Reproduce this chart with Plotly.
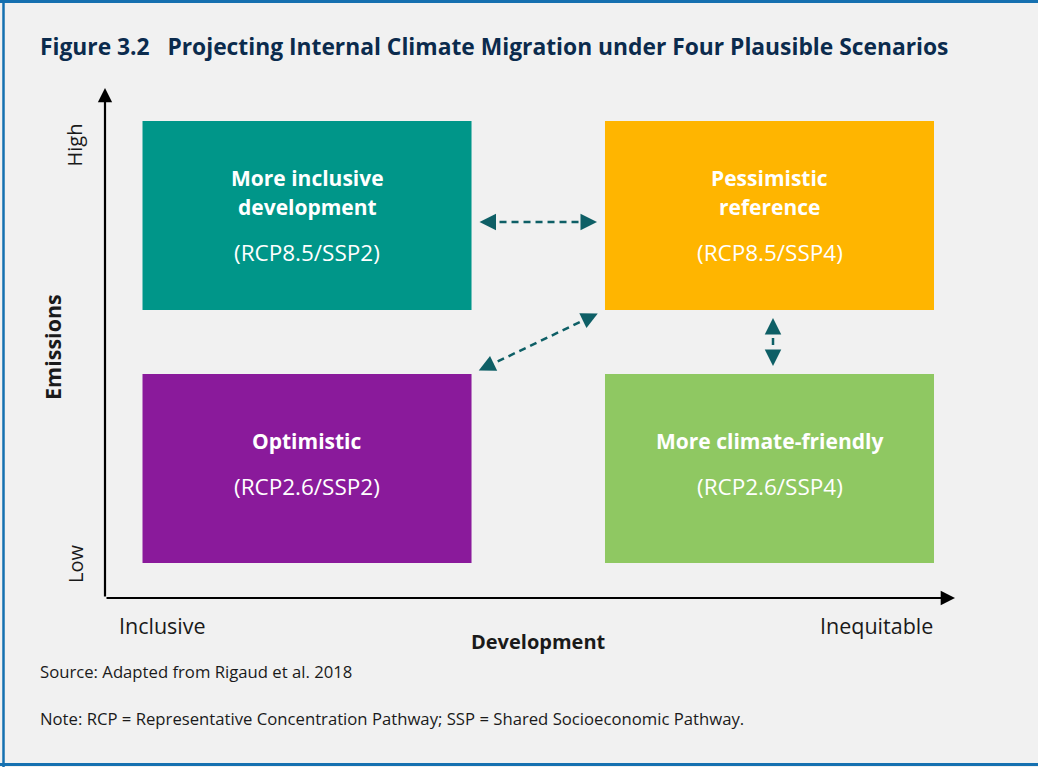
import plotly.graph_objects as go

# --- data ---------------------------------------------------------------
scenarios = ["More inclusive<br>development", "Pessimistic<br>reference",
             "Optimistic", "More climate-friendly"]
pathways = ["(RCP8.5/SSP2)", "(RCP8.5/SSP4)", "(RCP2.6/SSP2)", "(RCP2.6/SSP4)"]
development = ["Inclusive", "Inequitable", "Inclusive", "Inequitable"]
emissions = ["High", "High", "Low", "Low"]
dev_levels = ["Inclusive", "Inequitable"]
emi_levels = ["Low", "High"]
links = [(0, 1), (1, 2), (1, 3)]  # dashed two-way arrows between scenarios

box_colors = ["#009689", "#FFB500", "#8A1A9B", "#8FC862"]
arrow_color = "#0E5F66"
title_color = "#0B2B4D"
frame_color = "#1570B0"
bg = "#F1F1F1"
FONT = "Open Sans"

W, H = 1038, 767
ML, MR, MT, MB = 105, 83, 88, 169
XR = [-0.4368, 1.4011]
YR = [-0.5119, 1.504]
HW, HH = 0.3557, 0.3735  # half box size in axis units

px_x = (W - ML - MR) / (XR[1] - XR[0])
px_y = (H - MT - MB) / (YR[1] - YR[0])

fig = go.Figure()

xs = [dev_levels.index(d) for d in development]
ys = [emi_levels.index(e) for e in emissions]

# boxes + labels
for i, name in enumerate(scenarios):
    cx, cy = xs[i], ys[i]
    fig.add_shape(type="rect", x0=cx - HW, x1=cx + HW, y0=cy - HH, y1=cy + HH,
                  fillcolor=box_colors[i], line=dict(width=0), layer="below")
    lines = name.split("<br>")
    n = len(lines)
    code_off = 18 + 19 * (n - 1)
    for k, ln in enumerate(lines):
        off = code_off - 46 - 29 * (n - 1 - k)
        fig.add_annotation(x=cx, y=cy, yshift=-off, text=f"<b>{ln}</b>",
                           showarrow=False,
                           font=dict(size=21, color="white", family=FONT))
    fig.add_annotation(x=cx, y=cy, yshift=-code_off, text=pathways[i],
                       showarrow=False,
                       font=dict(size=22.5, color="white", family=FONT))

# dashed connectors
gap = 8
for a, b in links:
    ax_, ay_ = xs[a], ys[a]
    bx_, by_ = xs[b], ys[b]
    if ay_ == by_:
        sx = ax_ + HW * (1 if bx_ > ax_ else -1)
        ex = bx_ - HW * (1 if bx_ > ax_ else -1)
        sy = ey = ay_ - 6.5 / px_y
    elif ax_ == bx_:
        sx = ex = ax_ + 3.5 / px_x
        sy = ay_ + HH * (1 if by_ > ay_ else -1)
        ey = by_ - HH * (1 if by_ > ay_ else -1)
    else:
        sx = ax_ + HW * (1 if bx_ > ax_ else -1)
        sy = ay_ + HH * (1 if by_ > ay_ else -1)
        ex = bx_ - HW * (1 if bx_ > ax_ else -1)
        ey = by_ - HH * (1 if by_ > ay_ else -1)
    dx, dy = (ex - sx) * px_x, -(ey - sy) * px_y
    L = (dx ** 2 + dy ** 2) ** 0.5
    ux, uy = dx / L, dy / L
    sx2, sy2 = sx + ux * gap / px_x, sy - uy * gap / px_y
    ex2, ey2 = ex - ux * gap / px_x, ey + uy * gap / px_y
    fig.add_trace(go.Scatter(
        x=[sx2 + ux * 8 / px_x, ex2 - ux * 8 / px_x],
        y=[sy2 - uy * 8 / px_y, ey2 + uy * 8 / px_y],
        mode="lines", line=dict(color=arrow_color, width=2.5, dash="7px,5px"),
        hoverinfo="skip", showlegend=False))
    for (tx, ty, sgn) in [(ex2, ey2, 1), (sx2, sy2, -1)]:
        fig.add_annotation(x=tx, y=ty, ax=-sgn * ux * 10, ay=-sgn * uy * 10,
                           text="", showarrow=True, arrowhead=2, arrowsize=1.5,
                           arrowwidth=2.2, arrowcolor=arrow_color, standoff=0)

# axes as arrows
fig.add_annotation(x=XR[1], y=YR[0], ax=XR[0], ay=YR[0], axref="x", ayref="y",
                   text="", showarrow=True, arrowhead=2, arrowsize=1.3,
                   arrowwidth=2.2, arrowcolor="black", standoff=0)
fig.add_annotation(x=XR[0], y=YR[1], ax=XR[0], ay=YR[0], axref="x", ayref="y",
                   text="", showarrow=True, arrowhead=2, arrowsize=1.3,
                   arrowwidth=2.2, arrowcolor="black", standoff=0)

axis_font = dict(size=21.5, color="#1A1A1A", family=FONT)
fig.add_annotation(x=XR[0], y=1 + HH, text="High", textangle=-90,
                   xanchor="center", yanchor="top", xshift=-30, yshift=-1,
                   showarrow=False, font=dict(size=20, color="#1A1A1A", family=FONT))
fig.add_annotation(x=XR[0], y=YR[0], text="Low", textangle=-90,
                   xanchor="center", yanchor="bottom", xshift=-30, yshift=13,
                   showarrow=False, font=dict(size=20, color="#1A1A1A", family=FONT))
fig.add_annotation(x=XR[0], y=(YR[0] + YR[1]) / 2, text="<b>Emissions</b>",
                   textangle=-90, xanchor="center", xshift=-53, yshift=-4,
                   showarrow=False, font=dict(size=21.5, color="#1A1A1A", family=FONT))
fig.add_annotation(x=XR[0], y=YR[0], text="Inclusive", xanchor="left",
                   yanchor="middle", xshift=12, yshift=-27,
                   showarrow=False, font=axis_font)
fig.add_annotation(x=1 + HW, y=YR[0], text="Inequitable", xanchor="right",
                   yanchor="middle", xshift=1, yshift=-27,
                   showarrow=False, font=axis_font)
fig.add_annotation(x=(XR[0] + XR[1]) / 2, y=YR[0], text="<b>Development</b>",
                   xanchor="center", yanchor="middle", xshift=8, yshift=-43,
                   showarrow=False, font=dict(size=20, color="#1A1A1A", family=FONT))

# title and notes
fig.add_annotation(xref="paper", yref="paper", x=(38 - ML) / (W - ML - MR),
                   y=1 + (MT - 46) / (H - MT - MB), xanchor="left", yanchor="middle",
                   text="<b>Figure 3.2&nbsp;&nbsp;&nbsp;Projecting Internal Climate Migration under Four Plausible Scenarios</b>",
                   showarrow=False, font=dict(size=22.8, color=title_color, family=FONT))
note_font = dict(size=16.7, color="#1A1A1A", family=FONT)
fig.add_annotation(xref="paper", yref="paper", x=(38 - ML) / (W - ML - MR),
                   y=-(671 - (H - MB)) / (H - MT - MB), xanchor="left", yanchor="middle",
                   text="Source: Adapted from Rigaud et al. 2018",
                   showarrow=False, font=note_font)
fig.add_annotation(xref="paper", yref="paper", x=(38 - ML) / (W - ML - MR),
                   y=-(718 - (H - MB)) / (H - MT - MB), xanchor="left", yanchor="middle",
                   text="Note: RCP = Representative Concentration Pathway; SSP = Shared Socioeconomic Pathway.",
                   showarrow=False, font=note_font)

# frame lines (top, left, bottom)
fig.add_shape(type="line", xref="paper", yref="paper", x0=-1, x1=2,
              y0=1 + (MT - 1.5) / (H - MT - MB), y1=1 + (MT - 1.5) / (H - MT - MB),
              line=dict(color=frame_color, width=3))
fig.add_shape(type="line", xref="paper", yref="paper", x0=-(ML - 3.5) / (W - ML - MR),
              x1=-(ML - 3.5) / (W - ML - MR), y0=-1, y1=2,
              line=dict(color=frame_color, width=2.5))
fig.add_shape(type="line", xref="paper", yref="paper", x0=-1, x1=2,
              y0=-(764.5 - (H - MB)) / (H - MT - MB), y1=-(764.5 - (H - MB)) / (H - MT - MB),
              line=dict(color=frame_color, width=3))

fig.update_layout(
    width=W, height=H,
    margin=dict(l=ML, r=MR, t=MT, b=MB, pad=0),
    paper_bgcolor=bg, plot_bgcolor=bg,
    xaxis=dict(range=XR, visible=False, fixedrange=True),
    yaxis=dict(range=YR, visible=False, fixedrange=True),
    showlegend=False,
    font=dict(family=FONT),
)

fig.write_html("out.html", config={"displayModeBar": False},
               post_script="document.body.style.margin='0px';")
